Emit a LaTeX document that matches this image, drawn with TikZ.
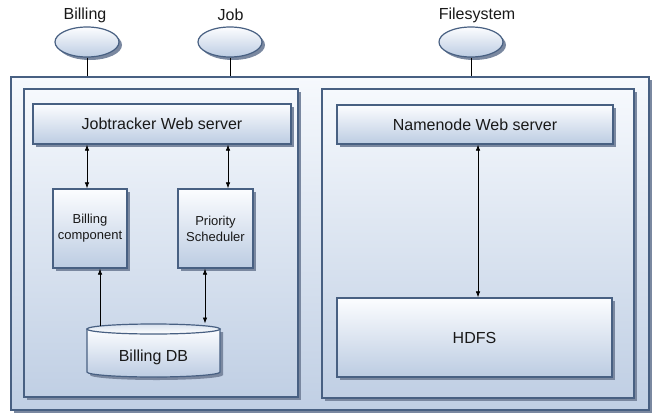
\documentclass[tikz,border=0pt]{standalone}
\usepackage{fontspec}
\setmainfont{Liberation Sans}
\usetikzlibrary{shadows,shapes.geometric,arrows.meta,calc}
\definecolor{bordc}{RGB}{72,96,130}
\definecolor{shcol}{RGB}{122,136,160}
\definecolor{boxtop}{RGB}{252,253,255}
\definecolor{boxbot}{RGB}{188,204,226}
\definecolor{pantop}{RGB}{246,249,253}
\definecolor{panbot}{RGB}{192,207,228}
\definecolor{txtc}{RGB}{25,25,25}
\tikzset{
  shd/.style={drop shadow={shadow xshift=3pt,shadow yshift=-3pt,fill=shcol,opacity=1}},
  panel/.style={draw=bordc,line width=1.3pt,top color=pantop,bottom color=panbot,shd,inner sep=0pt},
  compbox/.style={draw=bordc,line width=1.3pt,top color=boxtop,bottom color=boxbot,shd,inner sep=0pt,text=txtc,align=center},
  iface/.style={ellipse,draw=bordc,line width=1.2pt,top color=boxtop,bottom color=boxbot,shd,minimum width=64pt,minimum height=30pt,inner sep=0pt},
  lbl/.style={text=txtc,font=\fontsize{16}{18}\selectfont,inner sep=0pt},
  conn/.style={draw=black,line width=0.7pt},
  arr/.style={conn,-{Latex[length=6pt,width=4.5pt]}},
  darr/.style={conn,{Latex[length=6pt,width=4.5pt]}-{Latex[length=6pt,width=4.5pt]}}
}
\begin{document}
\begin{tikzpicture}[x=1pt,y=-1pt]
\useasboundingbox (0,0) rectangle (652,412);
% outer system box
\node[panel,minimum width=638pt,minimum height=333pt] (outer) at (330,243.5) {};
% panels
\node[panel,minimum width=274pt,minimum height=308pt] (lp) at (161,243) {};
\node[panel,minimum width=312pt,minimum height=309pt] (rp) at (478,243.5) {};
% web servers
\node[compbox,minimum width=258pt,minimum height=40pt,font=\fontsize{16}{18}\selectfont] (jt) at (162,124) {Jobtracker Web server};
\node[compbox,minimum width=276pt,minimum height=39pt,font=\fontsize{16}{18}\selectfont] (nn) at (475,124.5) {Namenode Web server};
% components
\node[compbox,minimum width=74pt,minimum height=79pt,font=\fontsize{13}{16}\selectfont] (bc) at (90,228.5) {Billing\\component};
\node[compbox,minimum width=75pt,minimum height=79pt,font=\fontsize{13}{16}\selectfont] (ps) at (215.5,228.5) {Priority\\Scheduler};
\node[compbox,minimum width=275pt,minimum height=79pt,font=\fontsize{16}{18}\selectfont] (hdfs) at (474.5,337.5) {HDFS};
% Billing DB cylinder
\fill[shcol] (90,332) -- (90,375) .. controls (90,377.76) and (119.77,380) .. (156.5,380) .. controls (193.23,380) and (223,377.76) .. (223,375) -- (223,332) -- cycle;
\shade[top color=boxtop,bottom color=boxbot,draw=bordc,line width=1.2pt] (87,329) -- (87,372) .. controls (87,374.76) and (116.77,377) .. (153.5,377) .. controls (190.23,377) and (220,374.76) .. (220,372) -- (220,329) -- cycle;
\shade[top color=boxbot!60!white,bottom color=white,draw=bordc,line width=1.2pt] (153.5,329) ellipse [x radius=66.5,y radius=5];
\node[lbl] (db) at (153.5,357) {Billing DB};
\coordinate (dbtopA) at (100,326);
\coordinate (dbtopB) at (205,323.5);
% interfaces
\node[iface] (ib) at (87,42) {};
\node[iface] (ij) at (230,42) {};
\node[iface] (if) at (471,42) {};
\node[lbl] (lb) at (85,15) {Billing};
\node[lbl] (lj) at (230.5,15) {Job};
\node[lbl] (lf) at (477,15) {Filesystem};
\draw[conn] (ib.south) -- (ib.south |- outer.north);
\draw[conn] (ij.south) -- (ij.south |- outer.north);
\draw[conn] (if.south) -- (if.south |- outer.north);
% connectors
\draw[darr] ([xshift=-3pt]jt.south -| bc.north) -- ([xshift=-3pt]bc.north);
\draw[darr] ([xshift=12.5pt]jt.south -| ps.north) -- ([xshift=12.5pt]ps.north);
\draw[arr] (dbtopA) -- (dbtopA |- bc.south);
\draw[darr] (dbtopB |- ps.south) -- (dbtopB);
\draw[darr] ([xshift=3pt]nn.south) -- ([xshift=3pt]nn.south |- hdfs.north);
\end{tikzpicture}
\end{document}
